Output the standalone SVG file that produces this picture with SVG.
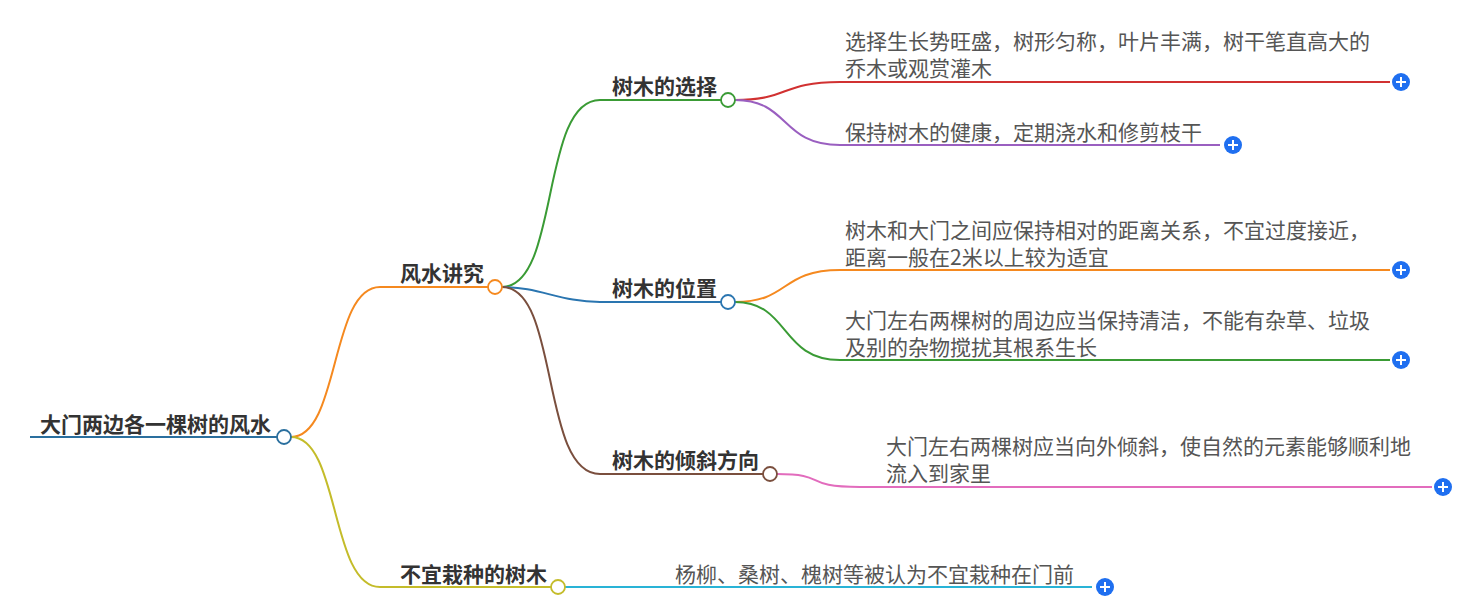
<svg xmlns="http://www.w3.org/2000/svg" width="1476" height="609" viewBox="0 0 1476 609">
<style>
.b{font-family:"Noto Sans CJK SC","Noto Sans",sans-serif;font-weight:bold;font-size:21px;fill:#333}
.l{font-family:"Noto Sans CJK SC","Noto Sans",sans-serif;font-size:21px;fill:#555}
.c{fill:#fff;stroke-width:1.8}
path{fill:none;stroke-width:2}
.p circle{fill:#1f6ff0}
.p path{stroke:#fff;stroke-width:2}
</style>
<rect width="1476" height="609" fill="#fff"/>
<g id="connectors">
<path d="M30 437H284" stroke="#2a6f9e" stroke-width="5"/>
<path d="M291 437C340 437 330 287 380 287H495" stroke="#f5891f"/>
<path d="M291 437C340 437 330 587 380 587H558" stroke="#c4bc2a"/>
<path d="M502 287C560 287 540 100 600 100H728" stroke="#3a9b35"/>
<path d="M502 287C540 287 560 302 600 302H728" stroke="#2a75b0"/>
<path d="M502 287C560 287 540 474 600 474H770" stroke="#7a4f3e"/>
<path d="M735 100C790 100 780 82 840 82H1390" stroke="#d13131"/>
<path d="M735 100C790 100 780 145 840 145H1220" stroke="#9a5fc0"/>
<path d="M735 302C790 302 780 270 840 270H1390" stroke="#f5891f"/>
<path d="M735 302C790 302 780 360 840 360H1390" stroke="#3a9b35"/>
<path d="M777 474C830 474 800 487 860 487H1432" stroke="#e26cbd"/>
<path d="M565 587H1092" stroke="#29b3d6"/>
</g>
<g id="root"><text class="b" x="40" y="432">大门两边各一棵树的风水</text><circle class="c" cx="284" cy="437" r="7" stroke="#2a6f9e"/></g>
<g id="n1"><text class="b" x="400" y="281">风水讲究</text><circle class="c" cx="495" cy="287" r="7" stroke="#f5891f"/></g>
<g id="n2"><text class="b" x="400" y="582">不宜栽种的树木</text><circle class="c" cx="558" cy="587" r="7" stroke="#c4bc2a"/></g>
<g id="n3"><text class="b" x="612" y="94">树木的选择</text><circle class="c" cx="728" cy="100" r="7" stroke="#3a9b35"/></g>
<g id="n4"><text class="b" x="612" y="296">树木的位置</text><circle class="c" cx="728" cy="302" r="7" stroke="#2a75b0"/></g>
<g id="n5"><text class="b" x="612" y="468">树木的倾斜方向</text><circle class="c" cx="770" cy="474" r="7" stroke="#7a4f3e"/></g>
<g id="l1"><text class="l" x="845" y="49">选择生长势旺盛，树形匀称，叶片丰满，树干笔直高大的</text><text class="l" x="845" y="76">乔木或观赏灌木</text><g class="p"><circle cx="1401" cy="82" r="9"/><path d="M1396 82h10M1401 77v10"/></g></g>
<g id="l2"><text class="l" x="845" y="140">保持树木的健康，定期浇水和修剪枝干</text><g class="p"><circle cx="1233" cy="145" r="9"/><path d="M1228 145h10M1233 140v10"/></g></g>
<g id="l3"><text class="l" x="845" y="238">树木和大门之间应保持相对的距离关系，不宜过度接近，</text><text class="l" x="845" y="265">距离一般在2米以上较为适宜</text><g class="p"><circle cx="1401" cy="270" r="9"/><path d="M1396 270h10M1401 265v10"/></g></g>
<g id="l4"><text class="l" x="845" y="328">大门左右两棵树的周边应当保持清洁，不能有杂草、垃圾</text><text class="l" x="845" y="355">及别的杂物搅扰其根系生长</text><g class="p"><circle cx="1401" cy="360" r="9"/><path d="M1396 360h10M1401 355v10"/></g></g>
<g id="l5"><text class="l" x="886" y="454">大门左右两棵树应当向外倾斜，使自然的元素能够顺利地</text><text class="l" x="886" y="481">流入到家里</text><g class="p"><circle cx="1443" cy="487" r="9"/><path d="M1438 487h10M1443 482v10"/></g></g>
<g id="l6"><text class="l" x="675" y="582">杨柳、桑树、槐树等被认为不宜栽种在门前</text><g class="p"><circle cx="1105" cy="587" r="9"/><path d="M1100 587h10M1105 582v10"/></g></g>
</svg>
